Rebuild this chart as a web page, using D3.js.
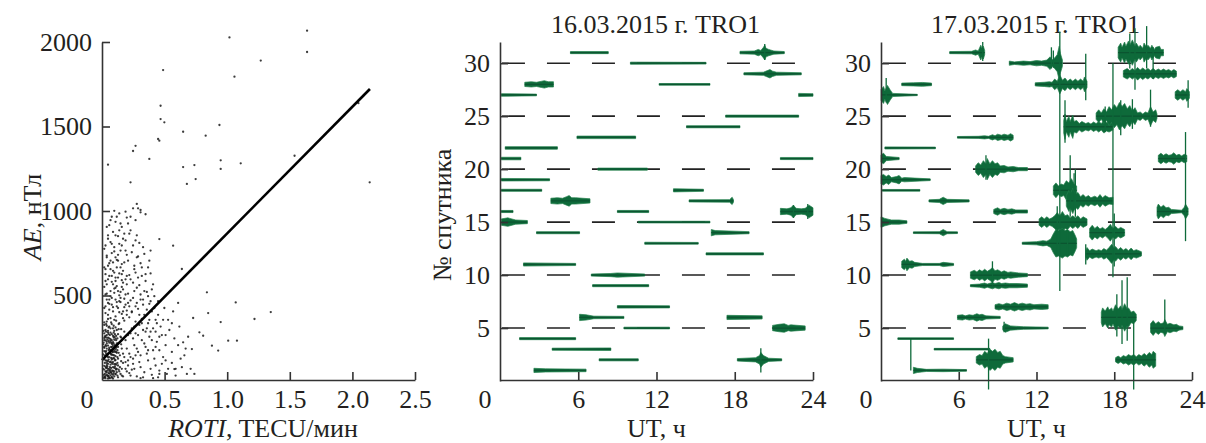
<!DOCTYPE html>
<html>
<head>
<meta charset="utf-8">
<script src="https://cdn.jsdelivr.net/npm/d3@7"></script>
<style>
  body { margin: 0; background: #fff; }
  text { font-family: "Liberation Serif", "Times New Roman", serif; fill: #231f20; }
</style>
</head>
<body>
<svg id="chart" width="1206" height="443"></svg>
<script>
// ---- data: left panel (ROTI vs AE) ----
const scatterRaw = `
0.01,12 0.03,25 0.05,8 0.02,44 0.07,31 0.04,60 0.09,15 0.01,78 0.06,52 0.03,95 0.08,70 0.11,40 0.02,110 0.05,130 0.10,90
0.04,150 0.07,115 0.01,165 0.09,140 0.03,180 0.06,170 0.12,120 0.02,200 0.08,195 0.05,215 0.10,175 0.01,230 0.04,245 0.07,230
0.11,210 0.03,260 0.09,250 0.06,275 0.02,290 0.08,300 0.05,310 0.12,265 0.01,320 0.04,285 0.10,305
0.02,5 0.04,18 0.06,22 0.08,3 0.10,28 0.12,10 0.03,38 0.05,48 0.07,12 0.09,45 0.11,60 0.01,55 0.03,68 0.06,85 0.08,100
0.10,62 0.12,80 0.02,135 0.04,105 0.07,145 0.09,120 0.11,155 0.01,190 0.05,185 0.08,160 0.03,210 0.06,225 0.10,240 0.12,190
0.02,255 0.07,265 0.04,275 0.09,285 0.11,290 0.06,300 0.03,315 0.01,270 0.05,240 0.08,255 0.10,135
0.015,30 0.035,50 0.055,70 0.075,90 0.095,110 0.115,130 0.025,150 0.045,170 0.065,190 0.085,210 0.105,230 0.015,250
0.035,20 0.055,100 0.075,160 0.095,200 0.115,240 0.025,280 0.045,35 0.065,125 0.085,180 0.105,55 0.015,95 0.035,135
0.055,260 0.075,205 0.095,75 0.115,170 0.025,65 0.045,225 0.065,40 0.085,245 0.105,160 0.015,140 0.035,235 0.055,155
0.075,50 0.095,265 0.115,95 0.025,195
0.005,5 0.02,18 0.04,3 0.06,40 0.08,25 0.00,60 0.03,82 0.05,58 0.07,97 0.09,66 0.01,118 0.04,128 0.06,102 0.08,142
0.10,112 0.02,160 0.05,176 0.07,188 0.09,168 0.00,205 0.03,222 0.06,236 0.08,218 0.01,242 0.04,198 0.10,196 0.02,72
0.07,8 0.09,88 0.00,145 0.05,32 0.03,108 0.06,152 0.08,48 0.01,185 0.04,90 0.10,30 0.02,228 0.07,210 0.09,232
0.005,25 0.025,45 0.045,15 0.065,65 0.085,35 0.105,85 0.125,55 0.145,105 0.005,125 0.025,165 0.045,115 0.065,145
0.085,125 0.105,185 0.125,155 0.145,205 0.005,215 0.025,245 0.045,265 0.065,215 0.085,275 0.105,255 0.125,295 0.145,245
0.005,285 0.025,325 0.045,305 0.065,335 0.085,315 0.105,345 0.125,325 0.145,295 0.015,10 0.035,75 0.055,5 0.075,120
0.095,160 0.115,20 0.135,140 0.135,70 0.14,30 0.15,180 0.15,60 0.16,15 0.17,130 0.18,100 0.19,45 0.20,80 0.22,20 0.25,60
0.03,340 0.06,360 0.09,350 0.13,330 0.17,345 0.21,365 0.26,340 0.31,355 0.36,330 0.42,350
0.02,390 0.05,410 0.08,400 0.12,420 0.15,385 0.19,405 0.23,395 0.28,415 0.33,380 0.39,400
0.04,450 0.07,440 0.10,470 0.14,455 0.18,440 0.22,465 0.27,450 0.32,470 0.37,445 0.44,460
0.02,500 0.06,520 0.09,510 0.13,495 0.16,530 0.20,505 0.25,520 0.30,500 0.35,515 0.41,490
0.03,560 0.07,575 0.11,550 0.15,585 0.19,560 0.24,570 0.29,555 0.34,580 0.40,560
0.02,620 0.05,610 0.09,630 0.12,600 0.16,640 0.21,615 0.26,630 0.31,610 0.38,625
0.04,670 0.08,690 0.11,660 0.15,680 0.20,700 0.25,670 0.30,685 0.36,660
0.03,730 0.07,745 0.10,720 0.14,760 0.19,735 0.23,750 0.28,725 0.33,740
0.02,790 0.06,810 0.09,780 0.13,800 0.18,820 0.24,790 0.29,805
0.04,850 0.08,870 0.12,845 0.17,860 0.22,880 0.27,850
0.05,910 0.10,930 0.15,900 0.20,920 0.26,940
0.07,960 0.13,980 0.19,955 0.24,1010 0.30,1000 0.34,975
0.01,420 0.04,380 0.07,480 0.10,540 0.13,460 0.16,400 0.02,580 0.05,470 0.08,560 0.11,430 0.14,515 0.17,475
0.06,650 0.10,600 0.12,700 0.03,470 0.18,590 0.21,430 0.01,660 0.15,620
0.01,335 0.04,355 0.07,325 0.10,370 0.13,395 0.16,360 0.19,380 0.02,430 0.05,445 0.08,425 0.11,455 0.14,480 0.17,425
0.20,450 0.03,505 0.06,490 0.09,535 0.12,520 0.15,545 0.18,500 0.01,545 0.04,590 0.07,610 0.10,580 0.13,625 0.16,570
0.19,610 0.02,650 0.05,685 0.08,640 0.11,705 0.14,660 0.17,690 0.03,720 0.06,700 0.09,755 0.12,735 0.15,790 0.18,760
0.01,770 0.04,830 0.07,800 0.10,850 0.13,880 0.16,830 0.21,860 0.03,900 0.06,940 0.11,960 0.14,920 0.18,990 0.09,995 0.22,960
0.21,150 0.24,120 0.27,180 0.30,140 0.33,210 0.36,170 0.39,230 0.42,190 0.45,250 0.22,270 0.25,310 0.28,260 0.31,330
0.34,280 0.37,350 0.40,300 0.43,330 0.23,400 0.26,430 0.29,380 0.32,440 0.35,410 0.38,460 0.41,420 0.24,480 0.27,540
0.30,470 0.33,520 0.36,490 0.39,530 0.22,590 0.28,600 0.34,620 0.25,650 0.31,660 0.37,700 0.27,720 0.32,780 0.26,820 0.38,760
0.15,20 0.18,60 0.21,35 0.24,90 0.27,15 0.30,70 0.33,40 0.36,110 0.39,25 0.42,80 0.45,50 0.48,130 0.51,30 0.55,95 0.58,60
0.16,150 0.19,180 0.22,130 0.25,200 0.28,160 0.31,230 0.34,190 0.37,250 0.40,170 0.43,220 0.47,260 0.50,200 0.53,290
0.57,240 0.61,310 0.14,250 0.17,280 0.20,260 0.23,300 0.26,270 0.29,320 0.32,290 0.35,300 0.38,280 0.46,310 0.52,350
0.44,380 0.49,420 0.56,400 0.60,450 0.13,45 0.16,95 0.20,110 0.23,55 0.26,140 0.29,100 0.32,10 0.35,150 0.38,60
0.41,120 0.44,10 0.47,90 0.12,210 0.18,230 0.24,240 0.30,5 0.40,5 0.62,120 0.66,180 0.70,60 0.68,250
0.45,170 0.50,110 0.55,160 0.60,200 0.65,140 0.52,60 0.58,20 0.63,70 0.48,350 0.55,330 0.42,280 0.45,30 0.50,260
1.63,2061 1.01,2021 1.26,1884 0.48,1828 1.05,1789 1.63,1935 0.46,1617 0.46,1538 0.49,1519 0.93,1503 0.64,1463
0.82,1440 0.44,1420 0.45,1410 0.26,1380 0.24,1349 0.37,1302 0.04,1268 0.73,1266 1.10,1276 0.94,1294 0.94,1243
0.74,1183 0.67,1154 0.22,1164 0.64,1254 0.27,1036 0.28,1010 0.30,986 2.13,1164 2.04,1632 1.53,1321 1.34,396
1.21,355 1.06,453 1.07,227 1.00,227 0.94,337 0.84,390 0.83,513 0.80,256 0.72,361 0.71,177 0.64,217 0.77,276
0.63,651 0.56,789 0.45,828 0.67,30 0.73,30 0.57,59 0.87,197 0.92,168
`;
const rotiAe = scatterRaw.trim().split(/\s+/).map(s => s.split(",").map(Number));
const fitLine = [[0, 118], [2.14, 1722]];
const rotiTicks = [0.5, 1.0, 1.5, 2.0, 2.5];
const aeTicks = [500, 1000, 1500, 2000];

// ---- data: satellite panels ----
const utTicks = [6, 12, 18, 24];
const satTicks = [5, 10, 15, 20, 25, 30];
const titles = ["16.03.2015 г. TRO1", "17.03.2015 г. TRO1"];

// [satellite, [[UT, half-amplitude], ...]]
const tracks16 = [
  [31, [[5.4,.1],[8.3,.1]]],
  [31, [[18.4,.12],[19.5,.15],[19.8,.3],[20.0,.2],[20.2,.5],[20.3,.7],[20.4,.4],[20.6,.3],[21.0,.15],[21.8,.1]]],
  [30, [[10.0,.1],[15.8,.08]]],
  [29, [[18.7,.1],[20.2,.15],[20.5,.3],[20.7,.4],[20.9,.25],[21.2,.15],[23.1,.1]]],
  [28, [[1.9,.2],[2.4,.25],[2.8,.2],[3.2,.3],[3.4,.35],[3.7,.25],[4.1,.25]]],
  [28, [[12.2,.08],[16.1,.08]]],
  [27, [[0.1,.12],[2.8,.08]]],
  [27, [[22.9,.15],[24.0,.12]]],
  [25, [[17.3,.1],[22.9,.1]]],
  [24, [[14.3,.1],[18.4,.1]]],
  [23, [[5.9,.12],[10.4,.12]]],
  [22, [[0.4,.12],[4.4,.12]]],
  [21, [[0.1,.12],[1.6,.12]]],
  [21, [[21.5,.1],[24.0,.1]]],
  [20, [[7.5,.1],[11.3,.1]]],
  [19, [[0.1,.12],[3.8,.1]]],
  [18, [[0.1,.1],[3.2,.1]]],
  [18, [[13.3,.15],[15.6,.1]]],
  [17, [[3.9,.25],[4.4,.3],[4.8,.25],[5.1,.4],[5.3,.5],[5.5,.3],[5.8,.3],[6.9,.2]]],
  [17, [[14.5,.1],[17.6,.12],[17.8,.35],[17.9,.12]]],
  [16, [[0.1,.1],[1.0,.1]]],
  [16, [[9.0,.1],[11.4,.1]]],
  [16, [[21.5,.3],[22.0,.25],[22.3,.35],[22.5,.6],[22.7,.3],[23.1,.25],[23.4,.3],[23.7,.6],[24.0,.35]]],
  [15, [[0.1,.3],[0.6,.4],[1.2,.2],[2.1,.15]]],
  [15, [[10.6,.08],[16.1,.08]]],
  [14, [[2.8,.1],[6.1,.1]]],
  [14, [[16.2,.3],[16.5,.2],[19.1,.1]]],
  [13, [[11.1,.1],[15.2,.08]]],
  [12, [[15.8,.1],[20.2,.1]]],
  [11, [[1.8,.15],[5.8,.1]]],
  [10, [[7.0,.1],[8.5,.15],[9.0,.2],[11.1,.1]]],
  [9, [[7.1,.1],[11.4,.1]]],
  [7, [[9.0,.12],[13.0,.1]]],
  [6, [[6.1,.3],[6.6,.25],[7.2,.12],[9.5,.1]]],
  [6, [[17.4,.2],[20.1,.15]]],
  [5, [[9.5,.08],[13.0,.08]]],
  [5, [[20.9,.25],[21.4,.35],[21.8,.4],[22.1,.25],[22.3,.3],[23.4,.2]]],
  [4, [[1.5,.1],[5.8,.1]]],
  [3, [[4.0,.1],[8.5,.12]]],
  [2, [[7.6,.1],[10.6,.1]]],
  [2, [[18.2,.12],[19.6,.2],[19.9,.4],[20.0,.7],[20.2,.4],[20.6,.15],[21.6,.1]]],
  [1, [[2.6,.2],[3.5,.15],[6.6,.12]]]
];
// [UT, satellite low, satellite high]
const spikes16 = [[20.0, 0.8, 3.1], [20.3, 30.3, 31.8], [23.6, 15.3, 16.7], [22.5, 15.4, 16.6]];

const tracks17 = [
  [31, [[5.3,.1],[7.0,.12],[7.3,.25],[7.5,.15],[7.7,.7],[7.8,.4],[7.9,.6],[8.0,.2]]],
  [30, [[9.9,.2],[10.3,.12],[11.0,.2],[11.5,.15],[12.0,.25],[12.4,.2],[12.8,.3],[13.05,.6],[13.2,.3],[13.4,.5],[13.6,.8],[13.75,1.6],[13.85,.9],[14.0,.3]]],
  [31, [[18.3,.5],[18.5,.9],[18.6,.5],[18.8,1.0],[18.9,.6],[19.1,1.1],[19.2,.7],[19.4,1.2],[19.6,.6],[19.7,.9],[19.9,.5],[20.0,.7],[20.2,.4],[20.3,.9],[20.5,.5],[20.6,.7],[20.8,.4],[20.9,.7],[21.1,.3],[21.2,.5],[21.5,.6],[21.6,.3],[21.8,.3]]],
  [29, [[18.7,.3],[19.0,.5],[19.2,.3],[19.4,.5],[19.6,.3],[19.8,.6],[20.0,.35],[20.2,.55],[20.4,.35],[20.6,.5],[20.8,.3],[21.0,.5],[21.2,.3],[21.4,.45],[21.6,.3],[21.8,.45],[22.0,.3],[22.2,.4],[22.4,.25],[22.6,.4],[22.8,.25]]],
  [28, [[1.6,.12],[2.5,.15],[3.2,.18],[3.9,.12]]],
  [28, [[11.9,.15],[12.6,.2],[13.0,.25],[13.2,.2],[13.4,.5],[13.6,.3],[13.8,.9],[14.0,.4],[14.2,.6],[14.4,.3],[14.6,.5],[14.8,.3],[15.0,.5],[15.2,.3],[15.4,.5],[15.6,.3],[15.7,.7],[15.9,.3]]],
  [27, [[0.0,.5],[0.2,.8],[0.3,.4],[0.5,.9],[0.7,.5],[0.9,.15],[2.8,.06]]],
  [27, [[22.7,.3],[22.9,.5],[23.1,.3],[23.3,.5],[23.5,.3],[23.6,.6],[23.8,.3]]],
  [24, [[14.1,.6],[14.2,1.2],[14.3,.5],[14.5,1.0],[14.6,.5],[14.8,1.1],[14.9,.5],[15.1,.6],[15.3,.3],[15.5,.5],[15.8,.3],[16.0,.4],[16.2,.25],[16.4,.45],[16.6,.3],[16.8,.5],[17.0,.3],[17.2,.6],[17.4,.4],[17.6,.5],[17.9,.3]]],
  [25, [[16.6,.3],[16.8,.6],[17.0,.3],[17.2,.7],[17.4,.4],[17.6,.9],[17.8,.6],[18.0,1.1],[18.2,.8],[18.4,1.3],[18.6,.9],[18.8,1.2],[19.0,.7],[19.2,1.0],[19.4,.5],[19.6,.8],[19.8,.3],[20.0,.4],[20.2,.2],[20.4,.4],[20.6,.3],[20.8,.9],[21.0,.4],[21.2,.6],[21.3,.2]]],
  [23, [[5.9,.08],[7.5,.1],[8.0,.15],[8.3,.1],[8.6,.25],[8.8,.15],[9.0,.3],[9.3,.2],[9.5,.3],[9.8,.2],[10.0,.35],[10.2,.2]]],
  [22, [[0.3,.1],[4.2,.08]]],
  [21, [[0.0,.35],[0.2,.5],[0.4,.2],[1.4,.1]]],
  [21, [[21.4,.3],[21.6,.5],[21.8,.3],[22.0,.45],[22.2,.3],[22.4,.35],[22.6,.55],[22.8,.3],[23.0,.4],[23.2,.25],[23.4,.4],[23.6,.3]]],
  [20, [[7.3,.3],[7.5,.6],[7.7,.4],[7.9,.8],[8.1,.5],[8.2,1.0],[8.4,.5],[8.6,.8],[8.8,.5],[9.0,.6],[9.2,.3],[9.5,.35],[9.8,.2],[10.2,.25],[10.6,.15],[11.3,.15]]],
  [19, [[0.0,.4],[0.2,.5],[0.4,.3],[0.6,.45],[0.8,.2],[1.2,.3],[1.4,.4],[1.6,.15],[1.8,.2],[3.8,.08]]],
  [18, [[0.1,.08],[3.0,.08]]],
  [18, [[13.3,.4],[13.5,.7],[13.7,.4],[13.9,.6],[14.1,.5],[14.3,.9],[14.5,.7],[14.7,1.1],[14.9,.6],[15.1,.4]]],
  [17, [[3.7,.1],[4.5,.15],[4.8,.35],[5.1,.15],[6.8,.1]]],
  [17, [[14.3,.5],[14.5,1.0],[14.6,.7],[14.8,1.2],[15.0,.6],[15.2,.8],[15.4,.4],[15.6,.6],[15.8,.35],[16.0,.5],[16.2,.3],[16.5,.45],[16.7,.3],[16.9,.6],[17.1,.3],[17.3,.5],[17.6,.3],[17.9,.35]]],
  [16, [[8.7,.2],[9.0,.35],[9.2,.2],[9.5,.3],[9.8,.2],[10.1,.25],[10.4,.15],[11.3,.15]]],
  [16, [[21.3,.4],[21.4,.7],[21.6,.4],[21.8,.6],[22.0,.35],[22.2,.4],[22.4,.2],[23.2,.12],[23.4,.4],[23.5,.7],[23.7,.3]]],
  [15, [[0.0,.5],[0.3,.35],[0.8,.2],[1.4,.2],[2.0,.12]]],
  [15, [[12.2,.3],[12.4,.5],[12.6,.3],[12.8,.5],[13.0,.3],[13.2,.4],[13.4,.6],[13.6,.9],[13.8,.6],[14.0,1.0],[14.2,.6],[14.4,.7],[14.6,.4],[14.8,.6],[15.0,.4],[15.2,.6],[15.4,.3],[15.6,.5],[15.9,.3]]],
  [14, [[2.5,.08],[4.5,.1],[4.8,.3],[5.1,.1],[5.9,.08]]],
  [14, [[16.1,.4],[16.3,.7],[16.5,.4],[16.7,.6],[16.9,.35],[17.1,.5],[17.3,.3],[17.5,.5],[17.7,.8],[17.9,.4],[18.1,.6],[18.3,.35],[18.5,.5],[18.8,.3]]],
  [13, [[10.9,.1],[12.0,.15],[12.5,.25],[12.8,.2],[13.1,.4],[13.3,.9],[13.5,1.3],[13.7,1.2],[14.0,1.4],[14.2,1.2],[14.4,1.3],[14.6,1.1],[14.8,1.2],[15.0,.7],[15.1,.4]]],
  [12, [[15.8,.3],[15.9,.6],[16.1,.3],[16.3,.45],[16.6,.3],[16.8,.4],[17.0,.3],[17.2,.5],[17.4,.35],[17.6,.6],[17.8,.9],[18.0,.5],[18.1,.7],[18.3,.4],[18.5,.6],[18.7,.35],[18.9,.5],[19.1,.3],[19.3,.55],[19.5,.3],[19.7,.4],[20.1,.2]]],
  [11, [[1.6,.3],[1.8,.5],[1.9,.3],[2.0,.6],[2.2,.3],[2.4,.35],[2.6,.2],[3.2,.1],[4.5,.1],[4.8,.2],[5.6,.1]]],
  [10, [[6.9,.3],[7.2,.45],[7.4,.3],[7.6,.5],[7.8,.35],[8.0,.55],[8.2,.35],[8.4,.5],[8.6,.7],[8.8,.4],[9.0,.5],[9.3,.3],[9.5,.4],[9.8,.25],[10.0,.3],[10.6,.2],[11.3,.15]]],
  [9, [[6.9,.1],[7.6,.15],[8.0,.25],[8.2,.15],[8.6,.3],[8.8,.2],[9.1,.3],[9.3,.2],[9.6,.25],[9.9,.2],[10.5,.2],[11.3,.15]]],
  [7, [[8.8,.2],[9.1,.3],[9.4,.2],[9.7,.35],[10.0,.25],[10.3,.4],[10.6,.25],[10.9,.35],[11.2,.25],[11.5,.3],[11.8,.2],[12.4,.25],[12.9,.2]]],
  [6, [[5.9,.2],[6.3,.25],[6.5,.15],[6.8,.25],[7.1,.2],[7.4,.35],[7.6,.25],[7.8,.3],[8.1,.15],[9.2,.1]]],
  [6, [[17.0,.5],[17.1,.9],[17.3,.6],[17.5,1.0],[17.6,.7],[17.8,.9],[17.9,.6],[18.1,1.2],[18.3,.8],[18.5,1.1],[18.6,.7],[18.8,1.3],[19.0,.8],[19.1,.9],[19.3,.5],[19.5,.6],[19.7,.3]]],
  [5, [[9.4,.2],[9.6,.4],[10.0,.2],[11.0,.12],[12.9,.08]]],
  [5, [[20.8,.4],[21.0,.7],[21.2,.4],[21.4,.6],[21.6,.4],[21.8,.5],[21.9,.8],[22.1,.35],[22.3,.45],[22.6,.3],[22.8,.35],[23.0,.2],[23.3,.15]]],
  [4, [[1.3,.08],[5.6,.08]]],
  [3, [[4.1,.08],[8.4,.08]]],
  [2, [[7.35,.3],[7.6,.5],[7.8,.4],[8.0,.8],[8.2,.6],[8.4,1.0],[8.6,.8],[8.8,1.0],[9.0,.7],[9.2,.8],[9.4,.4],[9.6,.3],[10.2,.2]]],
  [2, [[18.1,.2],[18.3,.35],[18.5,.2],[18.7,.4],[18.9,.3],[19.1,.5],[19.3,.35],[19.5,.5],[19.7,.3],[19.9,.5],[20.1,.35],[20.3,.6],[20.5,.4],[20.7,.7],[20.9,.5],[21.0,.8],[21.2,.6]]],
  [1, [[2.5,.3],[2.8,.2],[3.5,.1],[4.8,.12],[6.6,.08]]]
];
const spikes17 = [
  [0.4, 26.3, 28.6], [7.85, 30.2, 32.0], [13.8, 8.5, 33.0], [13.15, 29.5, 31.5], [17.9, 9.8, 30.0],
  [23.5, 13.2, 23.5], [2.3, 1.0, 4.0], [8.3, -0.8, 4.0], [19.5, -0.8, 5.5], [19.0, 3.8, 9.8],
  [18.6, 3.5, 9.5], [21.9, 4.5, 7.7], [14.6, 15.5, 21.3], [15.0, 15.5, 20.0], [9.5, 4.6, 5.6],
  [20.8, 24.0, 27.5], [19.6, 27.5, 33.3], [20.5, 29.5, 33.5], [15.8, 26.5, 30.9], [15.8, 11.0, 12.9],
  [23.7, 25.8, 28.4], [18.5, 23.2, 26.5], [19.2, 29.5, 32.8], [21.0, 28.5, 31.5], [14.2, 22.5, 26.5],
  [13.6, 12.0, 16.5], [14.4, 11.8, 14.2], [8.1, 19.0, 21.3], [8.6, 9.0, 11.3], [18.2, 4.2, 8.2],
  [19.4, 23.8, 26.6], [17.3, 23.5, 25.9], [14.9, 16.2, 19.6], [13.3, 29.6, 31.2], [18.0, 10.8, 15.8]
];

// ---- drawing ----
const svg = d3.select("#chart");
const FONT = 26;
const GREEN = "#0e6a3a";
const AXIS = "#333";

function styleAxis(g) {
  g.attr("font-size", FONT).attr("font-family", null);
  g.selectAll(".domain, .tick line").attr("stroke", AXIS).attr("stroke-width", 1.6);
}

function drawAxes(x, y, xTicks, yTicks, xFmt) {
  svg.append("g")
    .attr("transform", "translate(0,380)")
    .call(d3.axisBottom(x).tickValues(xTicks).tickSizeInner(-8).tickSizeOuter(0).tickPadding(10).tickFormat(xFmt))
    .call(styleAxis);
  svg.append("g")
    .attr("transform", `translate(${x.range()[0]},0)`)
    .call(d3.axisLeft(y).tickValues(yTicks).tickSizeInner(-8).tickSizeOuter(0).tickPadding(10).tickFormat(d3.format("d")))
    .call(styleAxis);
  svg.append("text")
    .attr("x", x.range()[0] - 15).attr("y", 408)
    .attr("text-anchor", "middle").attr("font-size", FONT)
    .text("0");
}

// left panel
const xR = d3.scaleLinear().domain([0, 2.5]).range([102, 415]);
const yA = d3.scaleLinear().domain([0, 2000]).range([380, 42]);

svg.append("g").selectAll("circle")
  .data(rotiAe)
  .enter().append("circle")
  .attr("cx", d => xR(d[0]) + 1)
  .attr("cy", d => yA(d[1]) - 1)
  .attr("r", 1.15)
  .attr("fill", "#1a1a1a")
  .attr("opacity", 0.85);

svg.append("path")
  .datum(fitLine)
  .attr("d", d3.line().x(d => xR(d[0])).y(d => yA(d[1])))
  .attr("stroke", "#000").attr("stroke-width", 2.6).attr("fill", "none");

drawAxes(xR, yA, rotiTicks, aeTicks, d3.format(".1f"));

const xlab = svg.append("text").attr("x", 263).attr("y", 437)
  .attr("text-anchor", "middle").attr("font-size", FONT);
xlab.append("tspan").attr("font-style", "italic").text("ROTI");
xlab.append("tspan").text(", TECU/мин");

const ylab = svg.append("text")
  .attr("transform", "translate(41,217) rotate(-90)")
  .attr("text-anchor", "middle").attr("font-size", FONT);
ylab.append("tspan").attr("font-style", "italic").text("AE");
ylab.append("tspan").text(", нТл");

// satellite panels
function satPanel(x0, x1, title, tracks, spikes, withYLabel) {
  const x = d3.scaleLinear().domain([0, 24]).range([x0, x1]);
  const y = d3.scaleLinear().domain([0, 32]).range([381, 42]);

  svg.append("text")
    .attr("x", (x0 + x1) / 2 - 1).attr("y", 33)
    .attr("text-anchor", "middle").attr("font-size", FONT)
    .text(title);

  svg.append("g").selectAll("line")
    .data(satTicks)
    .enter().append("line")
    .attr("x1", x(0.15)).attr("x2", x(22.9))
    .attr("y1", d => y(d)).attr("y2", d => y(d))
    .attr("stroke", "#222").attr("stroke-width", 1.6)
    .attr("stroke-dasharray", "23,22");

  const g = svg.append("g");
  tracks.forEach(([sat, env]) => {
    g.append("path")
      .datum(env)
      .attr("d", d3.area().x(d => x(d[0])).y0(d => y(sat - d[1])).y1(d => y(sat + d[1])))
      .attr("fill", GREEN).attr("stroke", "#237f4c").attr("stroke-width", 0.7);
    g.append("line")
      .attr("x1", x(env[0][0])).attr("x2", x(env[env.length - 1][0]))
      .attr("y1", y(sat)).attr("y2", y(sat))
      .attr("stroke", "#0b5530").attr("stroke-width", 1.3);
  });
  g.selectAll("line.spike")
    .data(spikes)
    .enter().append("line").attr("class", "spike")
    .attr("x1", d => x(d[0])).attr("x2", d => x(d[0]))
    .attr("y1", d => y(d[1])).attr("y2", d => y(d[2]))
    .attr("stroke", GREEN).attr("stroke-width", 1.3);

  drawAxes(x, y, utTicks, satTicks, d3.format("d"));

  svg.append("text")
    .attr("x", (x0 + x1) / 2).attr("y", 437)
    .attr("text-anchor", "middle").attr("font-size", FONT)
    .text("UT, ч");

  if (withYLabel) {
    svg.append("text")
      .attr("transform", "translate(451,215) rotate(-90)")
      .attr("text-anchor", "middle").attr("font-size", FONT)
      .text("№ спутника");
  }
}

satPanel(500, 813, titles[0], tracks16, spikes16, true);
satPanel(881, 1192, titles[1], tracks17, spikes17, false);
</script>
</body>
</html>
